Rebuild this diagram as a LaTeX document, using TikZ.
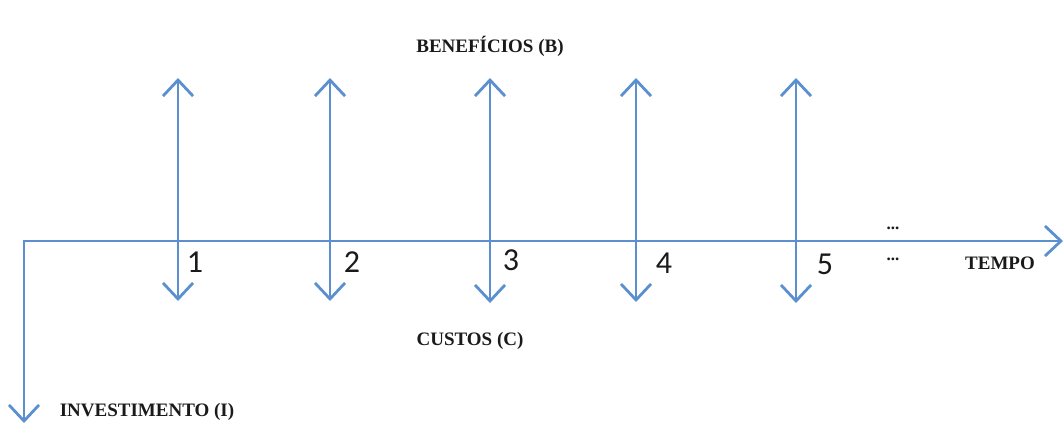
\documentclass[tikz,border=0pt]{standalone}
\usepackage{fontspec}
\setmainfont{Liberation Serif}
\newfontfamily\numfont{Carlito}
\usepackage{xcolor}
\usepackage{tikz}
\usetikzlibrary{arrows.meta}
\definecolor{flowblue}{HTML}{5B8FD0}
\definecolor{ink}{HTML}{1A1A1A}
\tikzset{
  axis/.style={draw=flowblue, line width=2.8pt, -{Straight Barb[length=16pt, width=30pt, line width=2.8pt]}},
  flow/.style={draw=flowblue, line width=2.8pt, {Straight Barb[length=16pt, width=30pt, line width=2.8pt]}-{Straight Barb[length=16pt, width=30pt, line width=2.8pt]}},
  lab/.style={text=ink, font=\fontsize{19}{21}\selectfont\bfseries, inner sep=0pt},
  num/.style={text=ink, font=\numfont\fontsize{32}{34}\selectfont, inner sep=0pt},
  dots/.style={text=ink, font=\fontsize{17}{19}\selectfont\bfseries, inner sep=0pt},
}
\begin{document}
\begin{tikzpicture}[x=1pt, y=-1pt]
  \useasboundingbox (0,0) rectangle (1064,424);
  % time axis and investment
  \coordinate (O) at (24,241);
  \coordinate (T) at (1063,241);
  \coordinate (I) at (24,423);
  \draw[axis] (O) -- (T);
  \draw[axis, line cap=rect] (O) -- (I);
  % cash flows per period
  \coordinate (C1) at (178,301); \coordinate (B1) at (178,78);
  \coordinate (C2) at (330,301); \coordinate (B2) at (330,78);
  \coordinate (C3) at (490,303); \coordinate (B3) at (490,78);
  \coordinate (C4) at (636,302); \coordinate (B4) at (636,78);
  \coordinate (C5) at (796,303); \coordinate (B5) at (796,78);
  \draw[flow] (C1) -- (B1);
  \draw[flow] (C2) -- (B2);
  \draw[flow] (C3) -- (B3);
  \draw[flow] (C4) -- (B4);
  \draw[flow] (C5) -- (B5);
  \node[num] (n1) at (195,262) {1};
  \node[num] (n2) at (352,262) {2};
  \node[num] (n3) at (511,260) {3};
  \node[num] (n4) at (664,263) {4};
  \node[num] (n5) at (825,264) {5};
  \node[dots] (d1) at (893,228) {...};
  \node[dots] (d2) at (893,259) {...};
  % labels
  \node[lab] (ben) at (490,46) {BENEFÍCIOS (B)};
  \node[lab] (cus) at (470,341) {CUSTOS (C)};
  \node[lab] (inv) at (147,412) {INVESTIMENTO (I)};
  \node[lab] (tempo) at (1000,263) {TEMPO};
\end{tikzpicture}
\end{document}
